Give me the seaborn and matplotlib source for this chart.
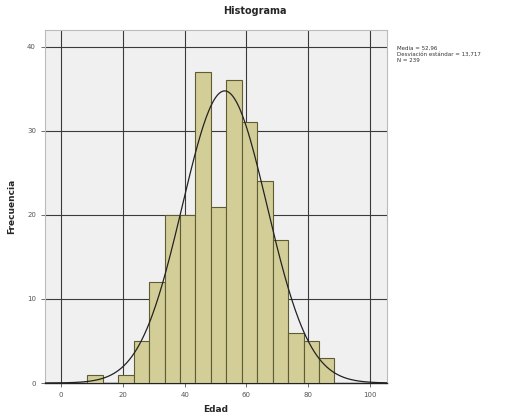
import numpy as np
import pandas as pd
import matplotlib
matplotlib.use("Agg")
import matplotlib.pyplot as plt
import seaborn as sns

# Data
bin_edges = [8.5, 13.5, 18.5, 23.5, 28.5, 33.5, 38.5, 43.5, 48.5, 53.5,
             58.5, 63.5, 68.5, 73.5, 78.5, 83.5, 88.5]
counts = [1, 0, 1, 5, 12, 20, 20, 37, 21, 36, 31, 24, 17, 6, 5, 3]
mean_val = 52.96
sd_val = 13.717
n_val = 239
x_ticks = [0, 20, 40, 60, 80, 100]
y_ticks = [0, 10, 20, 30, 40]
legend_lines = ["Media = 52,96", "Desviación estándar = 13,717", "N = 239"]

sns.set_style("white")
plt.rcParams['font.family'] = ['DejaVu Sans']

fig = plt.figure(figsize=(5.10, 4.19), dpi=100)
ax = fig.add_axes([45/510, 1-383/419, (387-45)/510, (383-30)/419])
ax.set_facecolor("#F0F0F0")

centers = [(bin_edges[i] + bin_edges[i+1]) / 2 for i in range(len(counts))]
df = pd.DataFrame({"Edad": centers, "w": counts})
sns.histplot(data=df, x="Edad", weights="w", bins=bin_edges, ax=ax,
             color="#D3CE98", edgecolor="#5E5C30", linewidth=0.8, alpha=1, zorder=3)

xs = np.linspace(-5.2, 105.5, 400)
binw = bin_edges[1] - bin_edges[0]
ys = n_val * binw / (sd_val * np.sqrt(2 * np.pi)) * np.exp(-0.5 * ((xs - mean_val) / sd_val) ** 2)
sns.lineplot(x=xs, y=ys, ax=ax, color="#222222", linewidth=0.9, zorder=4)

ax.set_xlim(-5.2, 105.5)
ax.set_ylim(0, 42)
ax.set_xticks(x_ticks)
ax.set_yticks(y_ticks)
ax.grid(True, color="#3a3a3a", linewidth=0.8, zorder=1)
ax.set_axisbelow(True)
ax.tick_params(axis="both", labelsize=5, colors="#555555", length=3, width=0.6,
               direction="out", bottom=True, left=True)
for s in ["top", "right", "left"]:
    ax.spines[s].set_color("#BBBBBB")
    ax.spines[s].set_linewidth(0.8)
ax.spines["bottom"].set_color("#222222")
ax.spines["bottom"].set_linewidth(1.0)

ax.set_xlabel("Edad", fontsize=6.5, fontweight="bold", labelpad=5)
ax.set_ylabel("Frecuencia", fontsize=6.5, fontweight="bold", labelpad=8)

fig.suptitle("Histograma", x=0.5, y=1-11/419, fontsize=7, fontweight="bold", va="center")

fig.text(397/510, 1-46/419, "\n".join(legend_lines), fontsize=4, va="top", ha="left",
         color="#333333", linespacing=1.2)

fig.savefig("out.png", dpi=100)
